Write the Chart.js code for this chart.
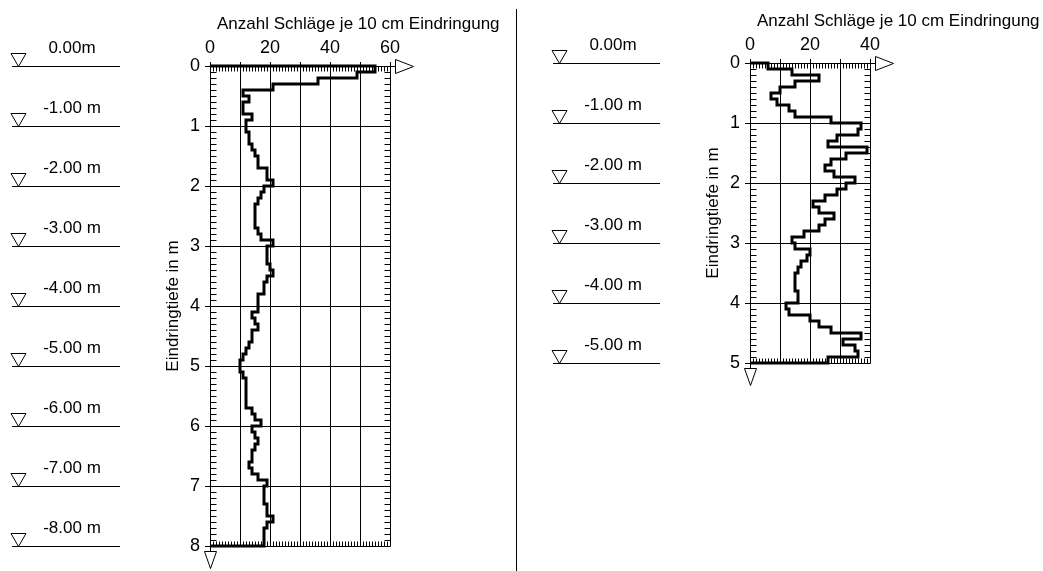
<!DOCTYPE html>
<html>
<head>
<meta charset="utf-8">
<script src="https://cdn.jsdelivr.net/npm/chart.js@4.4.1/dist/chart.umd.min.js"></script>
<style>
  html, body { margin: 0; padding: 0; background: #fff; }
  #page { position: relative; width: 1043px; height: 571px; background: #fff; overflow: hidden; }
  canvas { position: absolute; top: 0; }
  #c1 { left: 0; }
  #c2 { left: 517px; }
  #divider { position: absolute; left: 516px; top: 9px; width: 1px; height: 562px; background: #000; }
</style>
</head>
<body>
<div id="page">
  <canvas id="c1" width="516" height="571"></canvas>
  <div id="divider"></div>
  <canvas id="c2" width="526" height="571"></canvas>
</div>
<script>
// Rammsondierung: Schlagzahlen je 10 cm Eindringung, von oben nach unten
const stepM = 0.1;

const leftBlows = [
  55, 49, 36, 21, 11, 13, 11, 11, 14, 12,
  12, 13, 13, 14, 15, 16, 16, 19, 19, 21,
  18, 17, 16, 15, 15, 15, 15, 16, 17, 21,
  19, 19, 19, 20, 21, 19, 18, 18, 16, 16,
  16, 14, 15, 16, 14, 14, 13, 12, 11, 10,
  10, 11, 12, 12, 12, 12, 12, 14, 15, 17,
  14, 15, 16, 15, 14, 14, 13, 14, 16, 19,
  18, 18, 18, 19, 19, 21, 19, 18, 18, 18
];

const rightBlows = [
   6, 14, 23, 15, 10,  7,  9, 13, 15, 27,
  37, 36, 29, 26, 39, 32, 27, 25, 28, 35,
  32, 29, 25, 21, 23, 28, 25, 23, 18, 14,
  15, 20, 19, 17, 16, 15, 15, 15, 16, 16,
  12, 13, 20, 23, 27, 37, 31, 35, 36, 26
];

const leftLevels = ['0.00m', '-1.00 m', '-2.00 m', '-3.00 m', '-4.00 m', '-5.00 m', '-6.00 m', '-7.00 m', '-8.00 m'];
const rightLevels = ['0.00m', '-1.00 m', '-2.00 m', '-3.00 m', '-4.00 m', '-5.00 m'];

const leftBlowTicks = [0, 20, 40, 60];
const rightBlowTicks = [0, 20, 40];
const leftDepthTicks = [0, 1, 2, 3, 4, 5, 6, 7, 8];
const rightDepthTicks = [0, 1, 2, 3, 4, 5];

const titleBlows = 'Anzahl Schläge je 10 cm Eindringung';
const titleDepth = 'Eindringtiefe in m';

const FONT = '"Liberation Sans", Arial, sans-serif';
Chart.defaults.font.family = FONT;
Chart.defaults.font.size = 17;
Chart.defaults.color = '#000';

// Treppenkurve: Start bei 0 an der Oberfläche, Ende bei 0 an der Endtiefe
function profilePoints(blows) {
  const pts = [{ x: 0, y: 0 }];
  blows.forEach((v, i) => pts.push({ x: v, y: +(i * stepM).toFixed(2) }));
  pts.push({ x: 0, y: +(blows.length * stepM).toFixed(2) });
  return pts;
}

// Feinteilung, Achsenpfeile, Titel und Höhenkoten
const sondierungPlugin = {
  id: 'sondierung',
  afterDraw(chart, args, o) {
    const ctx = chart.ctx;
    const a = chart.chartArea;
    const xs = chart.scales.x;
    const ys = chart.scales.y;
    const px = v => Math.round(xs.getPixelForValue(v)) + 0.5;
    const py = v => Math.round(ys.getPixelForValue(v)) + 0.5;
    const L = Math.round(a.left) + 0.5, R = Math.round(a.right) + 0.5;
    const T = Math.round(a.top) + 0.5, B = Math.round(a.bottom) + 0.5;

    ctx.save();
    ctx.strokeStyle = '#000';
    ctx.lineWidth = 1;
    ctx.beginPath();
    // Feinteilung oben/unten: je 1 Schlag
    for (let v = xs.min; v <= xs.max; v += 1) {
      const x = px(v);
      ctx.moveTo(x, T); ctx.lineTo(x, T + 5);
      ctx.moveTo(x, B); ctx.lineTo(x, B - 5);
    }
    // Feinteilung links/rechts: je 10 cm
    const n = Math.round(ys.max / stepM);
    for (let k = 0; k <= n; k++) {
      const y = py(k * stepM);
      ctx.moveTo(L, y); ctx.lineTo(L + 6, y);
      ctx.moveTo(R, y); ctx.lineTo(R - 6, y);
    }
    ctx.stroke();

    // Pfeil der Schlagzahl-Achse
    ctx.beginPath();
    ctx.moveTo(R, T); ctx.lineTo(R + 5, T);
    ctx.moveTo(R + 5, T - 7); ctx.lineTo(R + 5, T + 7); ctx.lineTo(R + 23, T); ctx.closePath();
    ctx.stroke();
    // Pfeil der Tiefenachse
    ctx.beginPath();
    ctx.moveTo(L, B); ctx.lineTo(L, B + 5);
    ctx.moveTo(L - 6, B + 5); ctx.lineTo(L + 6, B + 5); ctx.lineTo(L, B + 22); ctx.closePath();
    ctx.stroke();

    // Achsentitel
    ctx.fillStyle = '#000';
    ctx.font = '17px ' + FONT;
    ctx.textAlign = 'left';
    ctx.textBaseline = 'alphabetic';
    ctx.fillText(titleBlows, a.left + 7, a.top - 37);
    ctx.save();
    ctx.translate(a.left - 32, (a.top + a.bottom) / 2);
    ctx.rotate(-Math.PI / 2);
    ctx.textAlign = 'center';
    ctx.fillText(titleDepth, 0, 0);
    ctx.restore();

    // Höhenkoten neben dem Profil
    ctx.textAlign = 'center';
    o.levels.forEach((txt, i) => {
      const y = py(i);
      ctx.beginPath();
      ctx.moveTo(o.levelX0, y); ctx.lineTo(o.levelX1, y);
      ctx.moveTo(o.levelX0 - 1, y - 13); ctx.lineTo(o.levelX0 + 14, y - 13); ctx.lineTo(o.levelX0 + 6.5, y); ctx.closePath();
      ctx.stroke();
      ctx.fillText(txt, o.levelX0 + 60, y - 14);
    });
    ctx.restore();
  }
};

function makeChart(id, blows, levels, blowMax, blowTicks, depthMax, depthTicks, box) {
  return new Chart(document.getElementById(id), {
    type: 'scatter',
    data: {
      datasets: [{
        data: profilePoints(blows),
        showLine: true,
        stepped: 'after',
        borderColor: '#000',
        borderWidth: 3,
        borderJoinStyle: 'miter',
        pointRadius: 0,
        pointHoverRadius: 0,
        fill: false,
        clip: false
      }]
    },
    options: {
      responsive: false,
      animation: false,
      events: [],
      layout: { padding: { left: 0, top: 0, right: box.padRight, bottom: box.padBottom } },
      plugins: {
        legend: { display: false },
        tooltip: { enabled: false },
        sondierung: { levels: levels, levelX0: box.levelX0, levelX1: box.levelX1 }
      },
      scales: {
        x: {
          type: 'linear',
          position: 'top',
          min: 0,
          max: blowMax,
          afterFit: s => { s.height = box.top; },
          grid: { color: '#000', lineWidth: 1, drawTicks: true, tickLength: 4, tickColor: '#000' },
          border: { display: true, color: '#000', width: 1 },
          ticks: {
            stepSize: 10,
            padding: 3,
            autoSkip: false,
            maxRotation: 0,
            color: '#000',
            font: { size: 18 },
            callback: v => blowTicks.includes(v) ? String(v) : ''
          }
        },
        y: {
          type: 'linear',
          position: 'left',
          reverse: true,
          min: 0,
          max: depthMax,
          afterFit: s => { s.width = box.left; },
          grid: { color: '#000', lineWidth: 1, drawTicks: true, tickLength: 5, tickColor: '#000' },
          border: { display: true, color: '#000', width: 1 },
          ticks: {
            stepSize: 1,
            padding: 5,
            autoSkip: false,
            color: '#000',
            font: { size: 18 },
            callback: v => depthTicks.includes(v) ? String(v) : ''
          }
        }
      }
    },
    plugins: [sondierungPlugin]
  });
}

makeChart('c1', leftBlows, leftLevels, 60, leftBlowTicks, 8, leftDepthTicks,
  { left: 210, top: 66, padRight: 126, padBottom: 25, levelX0: 12, levelX1: 120 });
makeChart('c2', rightBlows, rightLevels, 40, rightBlowTicks, 5, rightDepthTicks,
  { left: 233, top: 63, padRight: 173, padBottom: 208, levelX0: 36, levelX1: 143 });
</script>
</body>
</html>
